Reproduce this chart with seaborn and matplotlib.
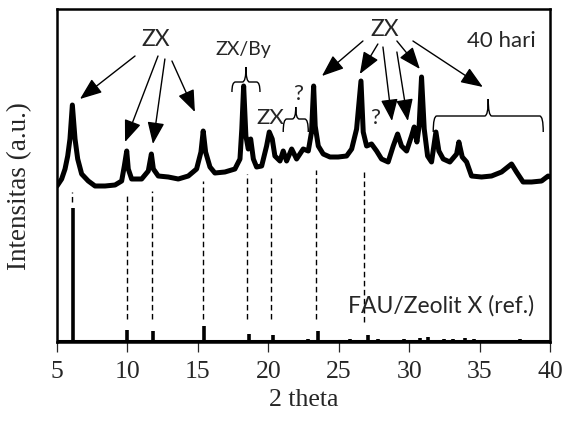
import numpy as np
import pandas as pd
import matplotlib
matplotlib.use("Agg")
import matplotlib.pyplot as plt
from matplotlib.path import Path
from matplotlib.patches import PathPatch
import seaborn as sns

# ------------------------------------------------------------
# Data
# ------------------------------------------------------------
# sample pattern after 40 days (2 theta, intensity a.u.)
theta_40 = [5.00, 5.33, 5.57, 5.76, 5.92, 6.09, 6.28, 6.47, 6.75, 7.22,
            7.70, 8.41, 9.12, 9.59, 9.78, 9.95, 10.06, 10.30, 11.01, 11.48,
            11.70, 11.84, 12.19, 12.90, 13.61, 14.32, 14.91, 15.22, 15.38, 15.55,
            15.86, 16.21, 16.92, 17.63, 17.99, 18.12, 18.25, 18.41, 18.58, 18.75,
            18.94, 19.17, 19.53, 19.88, 20.07, 20.28, 20.47, 20.83, 21.06, 21.30,
            21.66, 22.01, 22.48, 22.84, 23.07, 23.22, 23.33, 23.55, 23.90, 24.38,
            24.96, 25.56, 25.92, 26.27, 26.58, 26.74, 26.98, 27.33, 27.69, 28.04,
            28.51, 28.87, 29.18, 29.46, 29.82, 30.17, 30.36, 30.55, 30.71, 30.88,
            31.07, 31.31, 31.59, 31.90, 32.11, 32.42, 32.89, 33.37, 33.53, 33.77,
            34.08, 34.43, 35.14, 35.85, 36.56, 37.27, 37.62, 38.09, 38.69, 39.40,
            39.87, 40.00]
inten_40 = [156, 163, 173, 186, 203, 237, 203, 183, 168, 161,
            156, 156, 157, 161, 176, 191, 173, 163, 163, 171,
            188, 173, 166, 165, 163, 166, 173, 190, 211, 190,
            175, 169, 170, 173, 183, 213, 256, 206, 193, 203,
            183, 175, 176, 196, 210, 203, 186, 181, 191, 181,
            193, 183, 193, 191, 210, 256, 216, 196, 188, 185,
            185, 186, 193, 213, 261, 210, 196, 198, 191, 183,
            180, 196, 208, 196, 191, 206, 215, 200, 216, 265,
            213, 186, 180, 210, 191, 183, 180, 188, 200, 185,
            180, 166, 165, 166, 170, 178, 170, 160, 160, 161,
            166, 165]

# FAU / zeolite X reference sticks
ref_theta = [6.15, 10.0, 11.8, 15.45, 18.65, 20.35, 22.8, 23.55, 25.8, 27.05,
             27.8, 29.6, 30.8, 31.35, 32.5, 33.1, 34.0, 34.6, 37.9]
ref_inten = [133, 11, 10, 15, 7, 6, 2, 10, 2, 6,
             2, 2, 3, 4, 2, 2, 3, 2, 2]

# dashed guide lines linking sample peaks to reference peaks
guide_theta = [6.1, 9.95, 11.72, 15.38, 18.46, 20.19, 23.38, 26.79]
guide_top = [150, 148, 151, 161, 168, 165, 172, 173]
guide_bottom = [140, 23, 23, 23, 23, 23, 23, 20]

xticks = [5, 10, 15, 20, 25, 30, 35, 40]

# ------------------------------------------------------------
# Figure
# ------------------------------------------------------------
sns.set_style("white")
SERIF = ["Liberation Serif", "DejaVu Serif"]
SANS = ["Lato", "DejaVu Sans"]

fig = plt.figure(figsize=(5.67, 4.27), dpi=100)
ax = fig.add_axes([57 / 567, 84 / 427, 493 / 567, 333 / 427])

df40 = pd.DataFrame({"theta": theta_40, "I": inten_40})
sns.lineplot(data=df40, x="theta", y="I", color="black", linewidth=3.6,
             ax=ax, zorder=3)

# reference pattern: baseline + sticks
ax.vlines(ref_theta, 1.5, np.array(ref_inten) + 1.5, color="black",
          linewidth=2.6, zorder=3)
ax.axhline(1.5, color="black", linewidth=2.2, zorder=3)

ax.vlines(guide_theta, guide_bottom, guide_top, color="black",
          linewidth=1.0, linestyles=(0, (4, 2.5)), zorder=2)

ax.set_xlim(5, 40)
ax.set_ylim(0, 333)
ax.set_xticks(xticks)
ax.set_yticks([])
ax.tick_params(axis="x", direction="out", length=7, width=0.9,
               labelsize=18.5, pad=6, bottom=True)
for lab in ax.get_xticklabels():
    lab.set_family(SERIF)
for sp in ax.spines.values():
    sp.set_color("black")
    sp.set_linewidth(1.8)

ax.set_xlabel("2 theta", family=SERIF, fontsize=18.5, labelpad=4)
ax.set_ylabel("Intensitas (a.u.)", family=SERIF, fontsize=19.5)
ax.yaxis.set_label_coords(-0.05, 0.47)

# ------------------------------------------------------------
# Annotations
# ------------------------------------------------------------
def label(x, y, s, size=16):
    ax.text(x, y, s, family=SANS, fontsize=size, ha="center", va="center")

def arrow(x0, y0, x1, y1):
    ax.annotate("", xy=(x1, y1), xytext=(x0, y0),
                arrowprops=dict(arrowstyle="-|>,head_length=0.9,head_width=0.35",
                                color="black", lw=1.0, shrinkA=0, shrinkB=0,
                                mutation_scale=15))

def brace(x0, x1, y, drop, tip):
    # horizontal curly bracket opening downwards
    xc = (x0 + x1) / 2
    r = 0.25
    verts = [(x0, y - drop), (x0, y), (x0 + r, y),
             (xc - r, y), (xc, y), (xc, y + tip),
             (xc, y), (xc + r, y),
             (x1 - r, y), (x1, y), (x1, y - drop)]
    codes = [Path.MOVETO, Path.CURVE3, Path.CURVE3,
             Path.LINETO, Path.CURVE3, Path.CURVE3,
             Path.CURVE3, Path.CURVE3,
             Path.LINETO, Path.CURVE3, Path.CURVE3]
    ax.add_patch(PathPatch(Path(verts, codes), fill=False, lw=1.0,
                           edgecolor="black"))

label(12.03, 303, "ZX", 16.5)
arrow(10.54, 286, 6.63, 243)
arrow(12.17, 286, 9.83, 200)
arrow(12.66, 283, 11.81, 198)
arrow(13.16, 281, 14.79, 230)

label(18.25, 294, "ZX/By", 14)
brace(17.42, 19.41, 260, 10, 15)

label(20.12, 225, "ZX")
label(22.1, 249, "?")
brace(21.06, 22.84, 223, 13, 12)

label(28.28, 314, "ZX", 16.5)
arrow(26.72, 301, 23.81, 266)
arrow(27.78, 298, 26.50, 268)
arrow(28.14, 295, 28.78, 221)
arrow(29.13, 290, 29.91, 221)
arrow(29.13, 301, 30.76, 273)
arrow(30.27, 301, 35.23, 255)
label(27.57, 225, "?")

label(36.58, 302, "40 hari")
brace(31.71, 39.52, 226, 16, 17)

label(32.29, 37, "FAU/Zeolit X (ref.)", 16.5)

fig.savefig("out.png", dpi=100)
